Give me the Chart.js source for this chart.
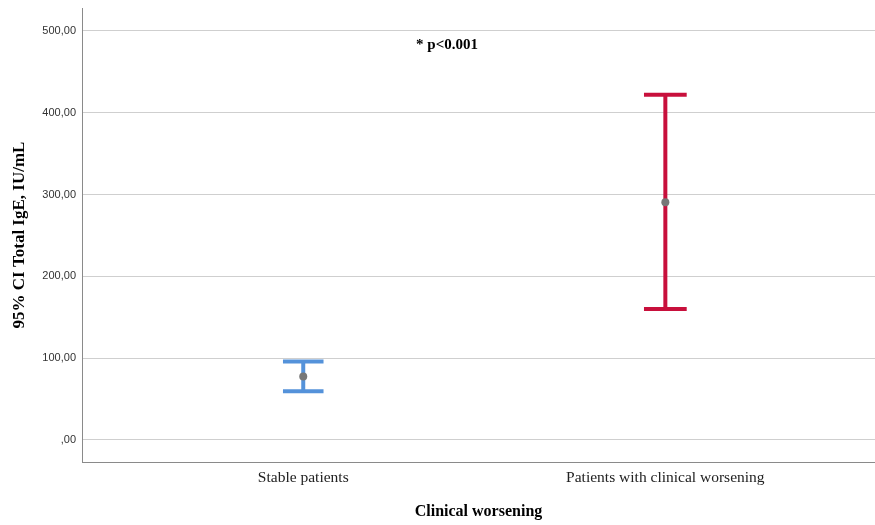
<!DOCTYPE html>
<html>
<head>
<meta charset="utf-8">
<script src="https://cdn.jsdelivr.net/npm/chart.js@4.4.1/dist/chart.umd.min.js"></script>
<style>
  html, body { margin: 0; padding: 0; background: #fff; }
</style>
</head>
<body>
<canvas id="ciChart" width="875" height="525"></canvas>
<script>
// Dữ liệu của biểu đồ
const groups = ['Stable patients', 'Patients with clinical worsening'];
const groupPos = [1, 2];
const means = [77.5, 290.5];
const lowerCI = [59.5, 160];
const upperCI = [96, 422];
const yTicks = [0, 100, 200, 300, 400, 500];
const pNote = '* p<0.001';

// Kiểu dáng
const barColors = ['#5492da', '#c8103c'];
const capHalf = [0.056, 0.059];

// Tạo các dataset cho thanh sai số
const datasets = [{
    data: means.map((m, i) => ({ x: groupPos[i], y: m })),
    pointRadius: 4,
    pointBackgroundColor: '#777777',
    pointBorderWidth: 0,
    showLine: false
}];

groups.forEach((g, i) => {
    const x = groupPos[i];
    const w = capHalf[i];
    const base = {
        showLine: true,
        borderColor: barColors[i],
        borderWidth: 4,
        borderCapStyle: 'butt',
        pointRadius: 0,
        fill: false
    };
    datasets.push({ ...base, data: [{ x: x, y: lowerCI[i] }, { x: x, y: upperCI[i] }] });
    datasets.push({ ...base, data: [{ x: x - w, y: upperCI[i] }, { x: x + w, y: upperCI[i] }] });
    datasets.push({ ...base, data: [{ x: x - w, y: lowerCI[i] }, { x: x + w, y: lowerCI[i] }] });
});

// Ghi chú p-value
const notePlugin = {
    id: 'pNote',
    afterDraw(chart) {
        const ctx = chart.ctx;
        ctx.save();
        ctx.font = 'bold 15px "Liberation Serif"';
        ctx.fillStyle = '#000';
        ctx.textAlign = 'center';
        ctx.textBaseline = 'middle';
        ctx.fillText(pNote, 447, 45);
        ctx.restore();
    }
};

new Chart(document.getElementById('ciChart'), {
    type: 'scatter',
    data: { datasets: datasets },
    plugins: [notePlugin],
    options: {
        responsive: false,
        animation: false,
        layout: { autoPadding: false, padding: { top: 8, right: 0, left: 0, bottom: 0 } },
        plugins: {
            legend: { display: false },
            tooltip: { enabled: false }
        },
        scales: {
            x: {
                type: 'linear',
                min: 0.389,
                max: 2.579,
                afterBuildTicks: s => { s.ticks = groupPos.map(v => ({ value: v })); },
                afterFit: s => { s.height = 63; s.paddingLeft = 0; s.paddingRight = 0; },
                ticks: {
                    callback: v => groups[groupPos.indexOf(v)],
                    font: { family: '"Liberation Serif"', size: 15.5 },
                    color: '#222',
                    padding: 7,
                    maxRotation: 0
                },
                grid: { display: false, drawTicks: false },
                border: { display: true, color: '#8a8a8a', width: 1 },
                title: {
                    display: true,
                    text: 'Clinical worsening',
                    font: { family: '"Liberation Serif"', size: 16, weight: 'bold' },
                    color: '#000',
                    padding: { bottom: 4 }
                }
            },
            y: {
                min: -27,
                max: 528,
                afterBuildTicks: s => { s.ticks = yTicks.map(v => ({ value: v })); },
                afterFit: s => { s.width = 82; s.paddingTop = 0; s.paddingBottom = 0; },
                ticks: {
                    callback: v => v === 0 ? ',00' : v.toFixed(2).replace('.', ','),
                    font: { family: '"Liberation Sans"', size: 11 },
                    color: '#333',
                    padding: 6
                },
                grid: { color: '#cfcfcf', lineWidth: 1, drawTicks: false },
                border: { display: true, color: '#8a8a8a', width: 1 },
                title: {
                    display: true,
                    text: '95% CI Total IgE, IU/mL',
                    font: { family: '"Liberation Serif"', size: 17, weight: 'bold' },
                    color: '#000',
                    padding: { top: 9 }
                }
            }
        }
    }
});
</script>
</body>
</html>
